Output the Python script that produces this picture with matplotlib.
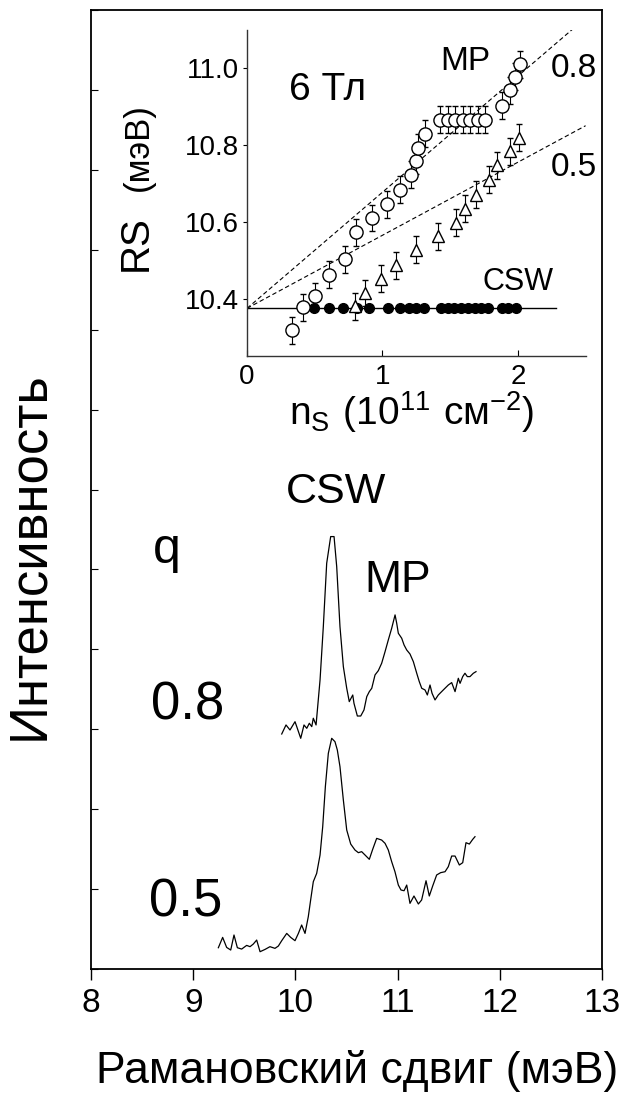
import matplotlib
matplotlib.use("Agg")

import matplotlib.pyplot as plt
import numpy as np

plt.rcParams["font.family"] = ["Liberation Sans", "DejaVu Sans"]
plt.rcParams["mathtext.fontset"] = "custom"
plt.rcParams["mathtext.rm"] = "Liberation Sans"


# Raman spectra at 6 T, two filling factors q
spec08_x = [9.866, 9.908, 9.947, 9.996, 10.013, 10.052, 10.084, 10.111, 10.136, 10.160,
            10.175, 10.202, 10.241, 10.273, 10.306, 10.345, 10.378, 10.404, 10.436, 10.469,
            10.502, 10.527, 10.561, 10.573, 10.606, 10.639, 10.671, 10.698, 10.723, 10.747,
            10.779, 10.811, 10.844, 10.877, 10.909, 10.942, 10.975, 10.991, 11.007, 11.040,
            11.063, 11.089, 11.121, 11.154, 11.187, 11.212, 11.236, 11.268, 11.291, 11.317,
            11.337, 11.366, 11.398, 11.447, 11.496, 11.529, 11.562, 11.594, 11.611, 11.637,
            11.659, 11.682, 11.708, 11.741, 11.767]
spec08_y = [2.941, 3.054, 2.991, 3.095, 3.033, 2.887, 3.054, 3.012, 3.075, 3.033,
            3.138, 3.054, 3.617, 4.284, 5.077, 5.411, 5.411, 5.035, 4.284, 3.784,
            3.513, 3.346, 3.429, 3.325, 3.166, 3.166, 3.242, 3.408, 3.471, 3.513,
            3.680, 3.733, 3.826, 3.971, 4.118, 4.264, 4.431, 4.327, 4.201, 4.139,
            4.055, 3.992, 3.942, 3.846, 3.701, 3.596, 3.513, 3.492, 3.429, 3.554,
            3.450, 3.367, 3.429, 3.492, 3.554, 3.584, 3.471, 3.638, 3.575, 3.659,
            3.701, 3.659, 3.659, 3.701, 3.721]

spec05_x = [9.246, 9.288, 9.327, 9.367, 9.399, 9.432, 9.474, 9.523, 9.556, 9.588,
            9.621, 9.654, 9.703, 9.751, 9.800, 9.833, 9.866, 9.915, 9.954, 9.996,
            10.029, 10.061, 10.094, 10.126, 10.149, 10.175, 10.208, 10.241, 10.267, 10.293,
            10.322, 10.355, 10.387, 10.410, 10.436, 10.469, 10.502, 10.541, 10.583, 10.616,
            10.648, 10.681, 10.723, 10.756, 10.795, 10.844, 10.877, 10.909, 10.942, 10.974,
            11.007, 11.033, 11.063, 11.089, 11.121, 11.160, 11.203, 11.235, 11.278, 11.310,
            11.343, 11.382, 11.421, 11.464, 11.496, 11.529, 11.562, 11.604, 11.637, 11.669,
            11.702, 11.735, 11.757]
spec05_y = [0.267, 0.396, 0.271, 0.238, 0.426, 0.267, 0.250, 0.296, 0.280, 0.313,
            0.363, 0.217, 0.246, 0.280, 0.259, 0.288, 0.355, 0.446, 0.396, 0.355,
            0.446, 0.551, 0.446, 0.655, 0.864, 1.093, 1.197, 1.427, 1.781, 2.282,
            2.699, 2.887, 2.845, 2.741, 2.532, 2.115, 1.740, 1.564, 1.489, 1.456,
            1.469, 1.427, 1.373, 1.498, 1.635, 1.614, 1.573, 1.489, 1.343, 1.218,
            1.051, 0.989, 0.980, 1.051, 0.822, 0.914, 0.814, 0.864, 1.105, 0.914,
            1.039, 1.177, 1.206, 1.218, 1.281, 1.414, 1.414, 1.302, 1.331, 1.581,
            1.564, 1.623, 1.656]

# inset: peak positions vs electron density
mp08_ns = [0.334, 0.414, 0.504, 0.604, 0.726, 0.808, 0.921, 1.033, 1.133, 1.208,
           1.250, 1.262, 1.312, 1.427, 1.483, 1.538, 1.594, 1.649, 1.705, 1.760,
           1.881, 1.944, 1.981, 2.018]
mp08_rs = [10.319, 10.379, 10.407, 10.464, 10.504, 10.574, 10.611, 10.647, 10.685, 10.723,
           10.760, 10.794, 10.830, 10.866, 10.866, 10.866, 10.866, 10.866, 10.866, 10.866,
           10.903, 10.943, 10.978, 11.011]

mp05_ns = [0.796, 0.871, 0.988, 1.100, 1.245, 1.407, 1.544, 1.612, 1.694, 1.786,
           1.844, 1.939, 2.011]
mp05_rs = [10.381, 10.416, 10.453, 10.488, 10.528, 10.563, 10.599, 10.635, 10.672, 10.710,
           10.748, 10.785, 10.820]

csw_ns = [0.498, 0.605, 0.710, 0.809, 0.904, 1.039, 1.128, 1.196, 1.245, 1.308,
          1.432, 1.482, 1.532, 1.582, 1.631, 1.681, 1.731, 1.781, 1.880, 1.930, 1.985]
csw_rs = [10.376] * 21

rs_err = 0.035
csw_level = 10.376
csw_line_ns = [0.0, 2.28]
fit_ns = np.array([0.0, 2.5])
fit_slopes = [0.302, 0.190]


fig = plt.figure(figsize=(6.29, 10.93), dpi=100)

# main panel with the spectra
ax = fig.add_axes([0.1447, 0.1134, 0.8124, 0.8775])
ax.plot(spec08_x, spec08_y, color="black", lw=0.9)
ax.plot(spec05_x, spec05_y, color="black", lw=0.9)
ax.set_xlim(8, 13)
ax.set_ylim(0, 12)
ax.set_xticks(range(8, 14))
ax.set_yticks(range(0, 13))
ax.set_yticklabels([])
ax.tick_params(axis="x", direction="out", length=8, width=1, labelsize=24, pad=6)
ax.tick_params(axis="y", direction="in", length=5, width=0.8)
for sp in ax.spines.values():
    sp.set_linewidth(1.3)

ax.text(10.402, 5.829, "CSW", fontsize=31, ha="center", va="baseline")
ax.text(10.999, 4.722, "MP", fontsize=32, ha="center", va="baseline")
ax.text(8.739, 5.08, "q", fontsize=36, ha="center", va="baseline")
ax.text(8.944, 3.125, "0.8", fontsize=38, ha="center", va="baseline")
ax.text(8.929, 0.655, "0.5", fontsize=38, ha="center", va="baseline")

fig.text(0.046, 0.492, "Интенсивность", fontsize=38, rotation=90,
         ha="center", va="center")
fig.text(0.5676, 0.0091, "Рамановский сдвиг (мэВ)", fontsize=32,
         ha="center", va="baseline")

# inset with peak positions
ins = fig.add_axes([0.3927, 0.6746, 0.5383, 0.298])
for slope in fit_slopes:
    ins.plot(fit_ns, csw_level + slope * fit_ns, color="black", lw=0.8,
             ls=(0, (4, 2.5)), zorder=1)
ins.plot(csw_line_ns, [csw_level, csw_level], color="black", lw=1.0, zorder=1)
ins.plot(csw_ns, csw_rs, "o", color="black", ms=7, zorder=3)
ins.errorbar(mp05_ns, mp05_rs, yerr=rs_err, fmt="^", ms=9, mfc="white", mec="black",
             mew=1, ecolor="black", elinewidth=0.8, capsize=2.5, zorder=4)
ins.errorbar(mp08_ns, mp08_rs, yerr=rs_err, fmt="o", ms=9.5, mfc="white", mec="black",
             mew=1, ecolor="black", elinewidth=0.8, capsize=2.5, zorder=4)

ins.set_xlim(0, 2.5)
ins.set_ylim(10.253, 11.10)
ins.set_xticks([0, 1, 2])
ins.set_yticks([10.4, 10.6, 10.8, 11.0])
ins.set_yticklabels(["10.4", "10.6", "10.8", "11.0"])
ins.tick_params(axis="x", direction="in", length=4, width=0.8, labelsize=20, pad=6)
ins.tick_params(axis="y", direction="out", length=3, width=0.8, labelsize=20, pad=3)
ins.spines["top"].set_visible(False)
ins.spines["right"].set_visible(False)
for side in ("left", "bottom"):
    ins.spines[side].set_linewidth(1.0)
    ins.spines[side].set_color("#333333")
ins.patch.set_alpha(0)

ins.text(0.598, 10.917, "6 Тл", fontsize=28, ha="center", va="baseline")
ins.text(1.61, 10.995, "MP", fontsize=24, ha="center", va="baseline")
ins.text(2.415, 10.978, "0.8", fontsize=24, ha="center", va="baseline")
ins.text(2.415, 10.719, "0.5", fontsize=24, ha="center", va="baseline")
ins.text(2.0, 10.424, "CSW", fontsize=22, ha="center", va="baseline")

fig.text(0.2162, 0.7772, "RS", fontsize=29, rotation=90, ha="center", va="center")
fig.text(0.2194, 0.8655, "(мэВ)", fontsize=25, rotation=90, ha="center", va="center")
fig.text(0.655, 1 - 425 / 1093, r"$\mathregular{n_S\ (10^{11}\ см^{-2})}$",
         fontsize=28, ha="center", va="baseline")

fig.savefig("out.png", dpi=100)
